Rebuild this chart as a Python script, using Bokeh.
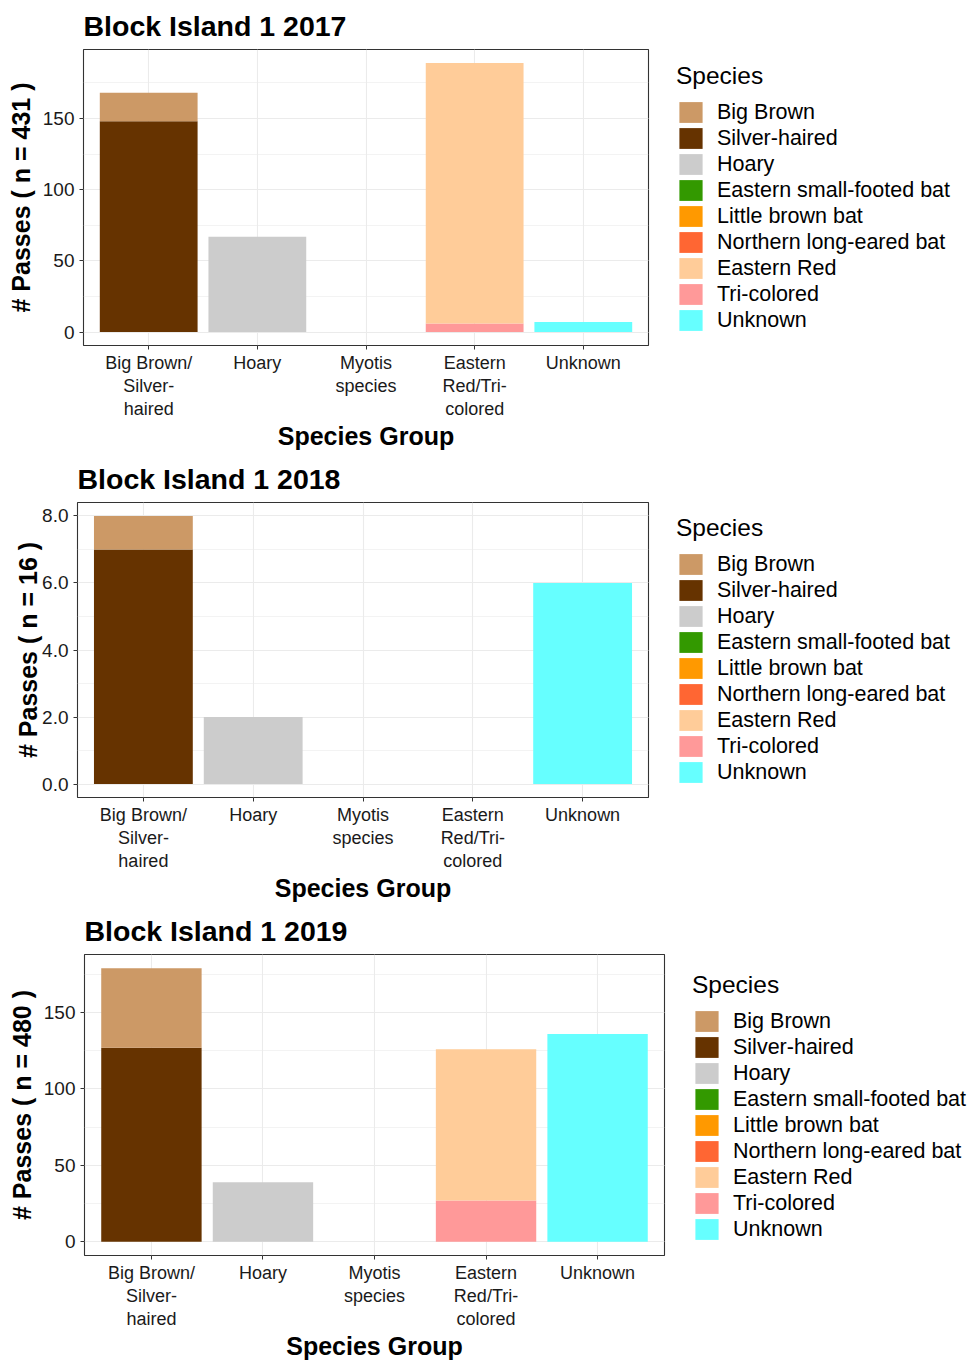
from bokeh.plotting import figure
from bokeh.layouts import column, row
from bokeh.models import (Range1d, FactorRange, Legend, LegendItem, CategoricalAxis,
                          SingleIntervalTicker, NumeralTickFormatter, ColumnDataSource)
from bokeh.embed import file_html
from bokeh.resources import INLINE

FONT = "Liberation Sans"

groups = ["Big Brown/Silver-haired", "Hoary", "Myotis species",
          "Eastern Red/Tri-colored", "Unknown"]
group_labels = ["Big Brown/\nSilver-\nhaired", "Hoary", "Myotis\nspecies",
                "Eastern\nRed/Tri-\ncolored", "Unknown"]

species = ["Big Brown", "Silver-haired", "Hoary", "Eastern small-footed bat",
           "Little brown bat", "Northern long-eared bat", "Eastern Red",
           "Tri-colored", "Unknown"]
colors = ["#CC9966", "#663300", "#CCCCCC", "#339900", "#FF9900",
          "#FF6633", "#FFCC99", "#FF9999", "#66FFFF"]

# ---- 2017 (n = 431) ----
big_brown_2017 = [20, 0, 0, 0, 0]
silver_haired_2017 = [148, 0, 0, 0, 0]
hoary_2017 = [0, 67, 0, 0, 0]
small_footed_2017 = [0, 0, 0, 0, 0]
little_brown_2017 = [0, 0, 0, 0, 0]
northern_long_eared_2017 = [0, 0, 0, 0, 0]
eastern_red_2017 = [0, 0, 0, 183, 0]
tri_colored_2017 = [0, 0, 0, 6, 0]
unknown_2017 = [0, 0, 0, 0, 7]

# ---- 2018 (n = 16) ----
big_brown_2018 = [1, 0, 0, 0, 0]
silver_haired_2018 = [7, 0, 0, 0, 0]
hoary_2018 = [0, 2, 0, 0, 0]
small_footed_2018 = [0, 0, 0, 0, 0]
little_brown_2018 = [0, 0, 0, 0, 0]
northern_long_eared_2018 = [0, 0, 0, 0, 0]
eastern_red_2018 = [0, 0, 0, 0, 0]
tri_colored_2018 = [0, 0, 0, 0, 0]
unknown_2018 = [0, 0, 0, 0, 6]

# ---- 2019 (n = 480) ----
big_brown_2019 = [52, 0, 0, 0, 0]
silver_haired_2019 = [127, 0, 0, 0, 0]
hoary_2019 = [0, 39, 0, 0, 0]
small_footed_2019 = [0, 0, 0, 0, 0]
little_brown_2019 = [0, 0, 0, 0, 0]
northern_long_eared_2019 = [0, 0, 0, 0, 0]
eastern_red_2019 = [0, 0, 0, 99, 0]
tri_colored_2019 = [0, 0, 0, 27, 0]
unknown_2019 = [0, 0, 0, 0, 136]

years = ["2017", "2018", "2019"]
totals = [431, 16, 480]
series = {
    "2017": [big_brown_2017, silver_haired_2017, hoary_2017, small_footed_2017,
             little_brown_2017, northern_long_eared_2017, eastern_red_2017,
             tri_colored_2017, unknown_2017],
    "2018": [big_brown_2018, silver_haired_2018, hoary_2018, small_footed_2018,
             little_brown_2018, northern_long_eared_2018, eastern_red_2018,
             tri_colored_2018, unknown_2018],
    "2019": [big_brown_2019, silver_haired_2019, hoary_2019, small_footed_2019,
             little_brown_2019, northern_long_eared_2019, eastern_red_2019,
             tri_colored_2019, unknown_2019],
}

PAGE_W = 977
# layout per panel
panel_cfg = {
    "2017": dict(left=83, fw=565, top=49, bottom=104, h=452, interval=50,
                 fmt=None, ystand=5, leg_dy=12),
    "2018": dict(left=77, fw=571, top=50, bottom=104, h=452, interval=2,
                 fmt="0.0", ystand=-3, leg_dy=12),
    "2019": dict(left=84, fw=580, top=50, bottom=104, h=458, interval=50,
                 fmt=None, ystand=5, leg_dy=13),
}

# one row of each category label per tick-label line (blank lines made unique)
label_lines = []
for k in range(3):
    row_k = []
    blanks = 0
    for lab in group_labels:
        parts = lab.split("\n")
        if k < len(parts):
            row_k.append(parts[k])
        else:
            blanks += 1
            row_k.append(" " * blanks)
    label_lines.append(row_k)


def style_text_axis(ax, size="19px"):
    ax.axis_line_color = None
    ax.minor_tick_line_color = None
    ax.major_label_text_font = FONT
    ax.major_label_text_font_size = size
    ax.major_label_text_color = "#1A1A1A"
    ax.axis_label_text_font = FONT
    ax.axis_label_text_font_size = "25px"
    ax.axis_label_text_font_style = "bold"
    ax.axis_label_text_color = "black"


def make_panel(year):
    cfg = panel_cfg[year]
    vals = series[year]
    data = {"group": groups}
    for name, v in zip(species, vals):
        data[name] = v
    src = ColumnDataSource(data)

    stack_tops = [sum(col) for col in zip(*vals)]
    ymax = max(stack_tops)
    chart_w = cfg["left"] + cfg["fw"] + 2

    p = figure(x_range=FactorRange(factors=groups, range_padding=0.1,
                                   range_padding_units="absolute"),
               y_range=Range1d(-0.05 * ymax, 1.05 * ymax),
               width=chart_w, height=cfg["h"],
               min_border_left=cfg["left"], min_border_top=cfg["top"],
               min_border_bottom=cfg["bottom"], min_border_right=2,
               output_backend="svg", toolbar_location=None,
               title="Block Island 1 " + year)
    p.background_fill_color = "white"
    p.border_fill_color = "white"
    p.outline_line_color = "#333333"
    p.outline_line_width = 1.1

    p.title.text_font = FONT
    p.title.text_font_size = "28.5px"
    p.title.text_font_style = "bold"
    p.title.text_color = "black"
    p.title.standoff = 15

    # stacked bars: bottom-to-top is reverse of legend order
    order = list(range(len(species)))[::-1]
    stackers = [species[i] for i in order]
    p.vbar_stack(stackers, x="group", width=0.9, source=src,
                 fill_color=[colors[i] for i in order], line_color=None)

    # y axis
    p.yaxis.ticker = SingleIntervalTicker(interval=cfg["interval"], num_minor_ticks=2)
    if cfg["fmt"]:
        p.yaxis.formatter = NumeralTickFormatter(format=cfg["fmt"])
    ya = p.yaxis[0]
    style_text_axis(ya)
    ya.major_tick_line_color = "#333333"
    ya.major_tick_out = 4
    ya.major_tick_in = 0
    ya.major_label_standoff = 5
    ya.axis_label = "# Passes ( n = %d )" % totals[years.index(year)]
    ya.axis_label_standoff = cfg["ystand"]

    # x axis: default axis hidden, three stacked category axes, one per label line
    p.xaxis.visible = False
    for k in range(3):
        name = "line%d" % k
        p.extra_x_ranges[name] = FactorRange(factors=label_lines[k], range_padding=0.1,
                                             range_padding_units="absolute")
        ax = CategoricalAxis(x_range_name=name)
        style_text_axis(ax, "18px")
        if k == 0:
            ax.major_tick_line_color = "#333333"
            ax.major_tick_out = 4
            ax.major_tick_in = 0
            ax.major_label_standoff = 3
        else:
            ax.major_tick_line_color = None
            ax.major_tick_out = 0
            ax.major_tick_in = 0
            ax.major_label_standoff = 0
        if k == 2:
            ax.axis_label = "Species Group"
            ax.axis_label_standoff = 0
        p.add_layout(ax, "below")

    # grid
    p.xgrid.grid_line_color = "#EBEBEB"
    p.xgrid.grid_line_width = 1.1
    p.ygrid.grid_line_color = "#EBEBEB"
    p.ygrid.grid_line_width = 1.1
    p.ygrid.minor_grid_line_color = "#EBEBEB"
    p.ygrid.minor_grid_line_width = 0.6

    # legend panel: its own figure to the right (frame aligned with the chart)
    lw = PAGE_W - chart_w
    lf = figure(width=lw, height=cfg["h"], x_range=Range1d(0, 1), y_range=Range1d(0, 1),
                x_axis_location=None, y_axis_location=None,
                min_border_left=0, min_border_right=0, min_border_top=0,
                min_border_bottom=0, output_backend="svg", toolbar_location=None)
    lf.outline_line_color = None
    lf.background_fill_color = "white"
    lf.xgrid.visible = False
    lf.ygrid.visible = False
    items = []
    for s, c in zip(species, colors):
        key_src = ColumnDataSource(dict(x=[0.0], top=[0.0]))
        r = lf.vbar(x="x", top="top", bottom=0.0, width=0.0, source=key_src,
                    fill_color=c, line_color=None)
        items.append(LegendItem(label=s, renderers=[r]))
    legend = Legend(items=items, title="Species",
                    location=(26, cfg["leg_dy"]),
                    border_line_color=None, background_fill_color=None,
                    padding=0, margin=0, spacing=0,
                    glyph_width=29, glyph_height=26, label_height=23,
                    label_standoff=12,
                    label_text_font=FONT, label_text_font_size="21.5px",
                    label_text_color="black",
                    title_text_font=FONT, title_text_font_size="24.5px",
                    title_text_font_style="normal", title_text_color="black",
                    title_standoff=9)
    lf.add_layout(legend)
    return row(p, lf, spacing=0)


rows = [make_panel(y) for y in years]
layout = column(*rows, spacing=0)
open("out.html", "w").write(file_html(layout, INLINE))
